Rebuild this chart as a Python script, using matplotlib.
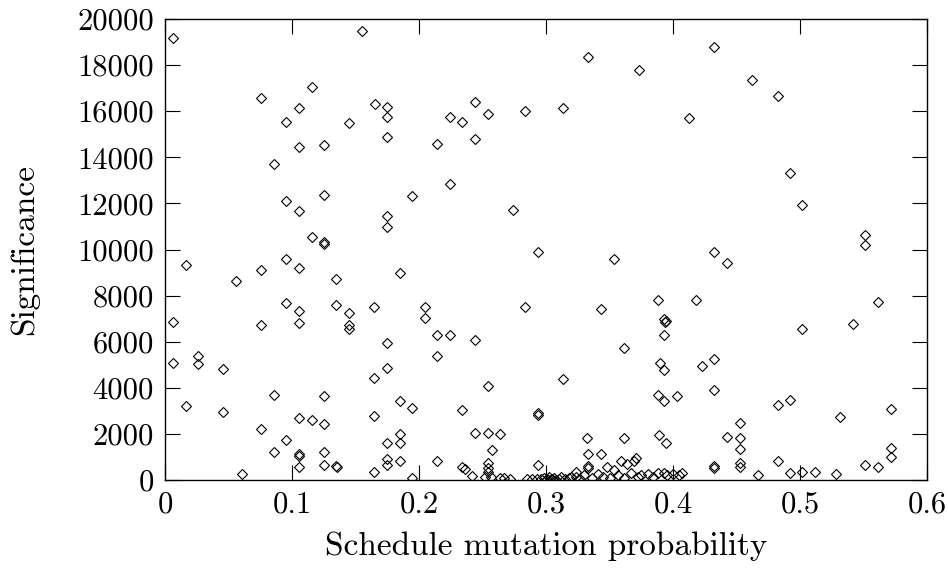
import matplotlib
matplotlib.use("Agg")
import matplotlib.pyplot as plt

# schedule mutation probability vs. significance
prob_upper = [0.006, 0.076, 0.1155, 0.1055, 0.0953, 0.145, 0.1055, 0.125, 0.0856, 0.155,
              0.165, 0.175, 0.175, 0.175, 0.2244, 0.234, 0.2443, 0.254, 0.2837, 0.2144,
              0.2443, 0.3333, 0.373, 0.4325, 0.3136, 0.4126, 0.4624, 0.4822, 0.492]
sig_upper = [19160, 16560, 17050, 16140, 15520, 15470, 14430, 14550, 13720, 19490,
             16300, 16200, 15760, 14870, 15760, 15530, 16410, 15890, 16020, 14560,
             14790, 18340, 17800, 18780, 16120, 15690, 17370, 16660, 13320]

prob_mid = [0.0953, 0.1055, 0.1252, 0.1155, 0.1252, 0.1252, 0.0165, 0.0559, 0.0758, 0.0953,
            0.1055, 0.135, 0.0953, 0.1055, 0.135, 0.1449, 0.1449, 0.1449, 0.0066, 0.0758,
            0.1055, 0.2244, 0.1947, 0.175, 0.175, 0.274, 0.2934, 0.1848, 0.1648, 0.2047,
            0.2047, 0.2837, 0.3533, 0.4325, 0.4423, 0.3433, 0.388, 0.4181, 0.3932, 0.3942,
            0.3935, 0.5018, 0.5514, 0.5514, 0.5614, 0.5415, 0.5018]
sig_mid = [12120, 11670, 12350, 10530, 10310, 10250, 9340, 8630, 9095, 9590,
           9180, 8735, 7665, 7345, 7590, 7260, 6720, 6560, 6870, 6725,
           6800, 12840, 12320, 11465, 10960, 11710, 9900, 8965, 7490, 7520,
           7040, 7490, 9575, 9900, 9400, 7405, 7810, 7810, 6980, 6920,
           6850, 11910, 10630, 10190, 7720, 6770, 6540]

prob_low_left = [0.0066, 0.0262, 0.0262, 0.0459, 0.0856, 0.1252, 0.0165, 0.0459, 0.1055, 0.1155,
                 0.1252, 0.0756, 0.0953, 0.0856, 0.1055, 0.1055, 0.1252, 0.1055, 0.1252, 0.135,
                 0.1355, 0.0609]
sig_low_left = [5060, 5390, 5020, 4815, 3670, 3630, 3225, 2965, 2690, 2620,
                2415, 2200, 1720, 1215, 1130, 1050, 1215, 580, 650, 620,
                560, 250]

prob_low_mid = [0.2144, 0.2244, 0.1748, 0.2443, 0.2144, 0.1748, 0.1648, 0.254, 0.1848, 0.1945,
                0.234, 0.2934, 0.2934, 0.1648, 0.2441, 0.254, 0.264, 0.1848, 0.1748, 0.1848,
                0.2572, 0.1748, 0.1748, 0.1848, 0.2144, 0.1648, 0.1945, 0.234, 0.236, 0.2415,
                0.254, 0.254, 0.254, 0.252, 0.257, 0.264, 0.267, 0.272, 0.285, 0.289,
                0.293, 0.2934]
sig_low_mid = [6290, 6290, 5960, 6075, 5390, 4870, 4440, 4080, 3430, 3110,
               3020, 2900, 2830, 2760, 2050, 2050, 1995, 1980, 1620, 1620,
               1290, 900, 650, 840, 840, 360, 70, 580, 480, 190,
               720, 500, 330, 120, 120, 80, 100, 60, 50, 40,
               50, 650]

prob_low_right = [0.393, 0.3617, 0.3898, 0.393, 0.4226, 0.4325, 0.3136, 0.388, 0.393, 0.4029,
                  0.4325, 0.3325, 0.3617, 0.389, 0.3942, 0.4423, 0.3333, 0.3433, 0.359, 0.3635,
                  0.3706, 0.369, 0.3333, 0.3333, 0.3483, 0.3534, 0.4325, 0.4325, 0.4068, 0.393,
                  0.296, 0.298, 0.300, 0.301, 0.302, 0.303, 0.305, 0.306, 0.308, 0.31,
                  0.312, 0.315, 0.318, 0.32, 0.3235, 0.3235, 0.327, 0.33, 0.336, 0.341,
                  0.345, 0.35, 0.357, 0.361, 0.367, 0.372, 0.375, 0.38, 0.384, 0.388,
                  0.395, 0.4, 0.405]
sig_low_right = [6290, 5710, 5090, 4770, 4945, 5250, 4380, 3690, 3440, 3640,
                 3900, 1835, 1835, 1950, 1620, 1880, 1130, 1130, 840, 680,
                 940, 840, 610, 540, 580, 420, 610, 520, 290, 320,
                 30, 100, 20, 60, 150, 10, 40, 90, 20, 60,
                 120, 30, 80, 150, 350, 150, 60, 200, 100, 250,
                 150, 80, 200, 100, 300, 150, 200, 250, 150, 300,
                 200, 250, 200]

prob_right = [0.4822, 0.492, 0.5315, 0.5714, 0.4528, 0.4528, 0.4528, 0.4528, 0.4528, 0.5714,
              0.5714, 0.4822, 0.4672, 0.492, 0.5018, 0.5118, 0.5283, 0.5512, 0.561]
sig_right = [3250, 3470, 2720, 3090, 2460, 1810, 1330, 720, 560, 1375,
             1010, 840, 215, 320, 360, 360, 250, 650, 580]

xticks = [0, 0.1, 0.2, 0.3, 0.4, 0.5, 0.6]
xtick_labels = ["0", "0.1", "0.2", "0.3", "0.4", "0.5", "0.6"]
yticks = list(range(0, 20001, 2000))

prob = prob_upper + prob_mid + prob_low_left + prob_low_mid + prob_low_right + prob_right
sig = sig_upper + sig_mid + sig_low_left + sig_low_mid + sig_low_right + sig_right

plt.rcParams["font.family"] = "serif"
plt.rcParams["font.serif"] = ["cmr10", "DejaVu Serif"]
plt.rcParams["axes.formatter.use_mathtext"] = True

fig = plt.figure(figsize=(9.48, 5.73), dpi=100)
ax = fig.add_axes([0.174, 0.1623, 0.804, 0.8045])

ax.plot(prob, sig, linestyle="none", marker="D", ms=5.0, mfc="none", mec="black", mew=0.8)

ax.set_xlim(0, 0.6)
ax.set_ylim(0, 20000)
ax.set_xticks(xticks)
ax.set_xticklabels(xtick_labels)
ax.set_yticks(yticks)
ax.set_yticklabels([str(v) for v in yticks])
ax.tick_params(direction="in", length=11, width=0.8, labelsize=22, top=True, right=True, pad=8)
for s in ax.spines.values():
    s.set_linewidth(1.0)

ax.set_xlabel("Schedule mutation probability", fontsize=24, labelpad=9)
ax.set_ylabel("Significance", fontsize=24, labelpad=27)

fig.savefig("out.png", dpi=100)
